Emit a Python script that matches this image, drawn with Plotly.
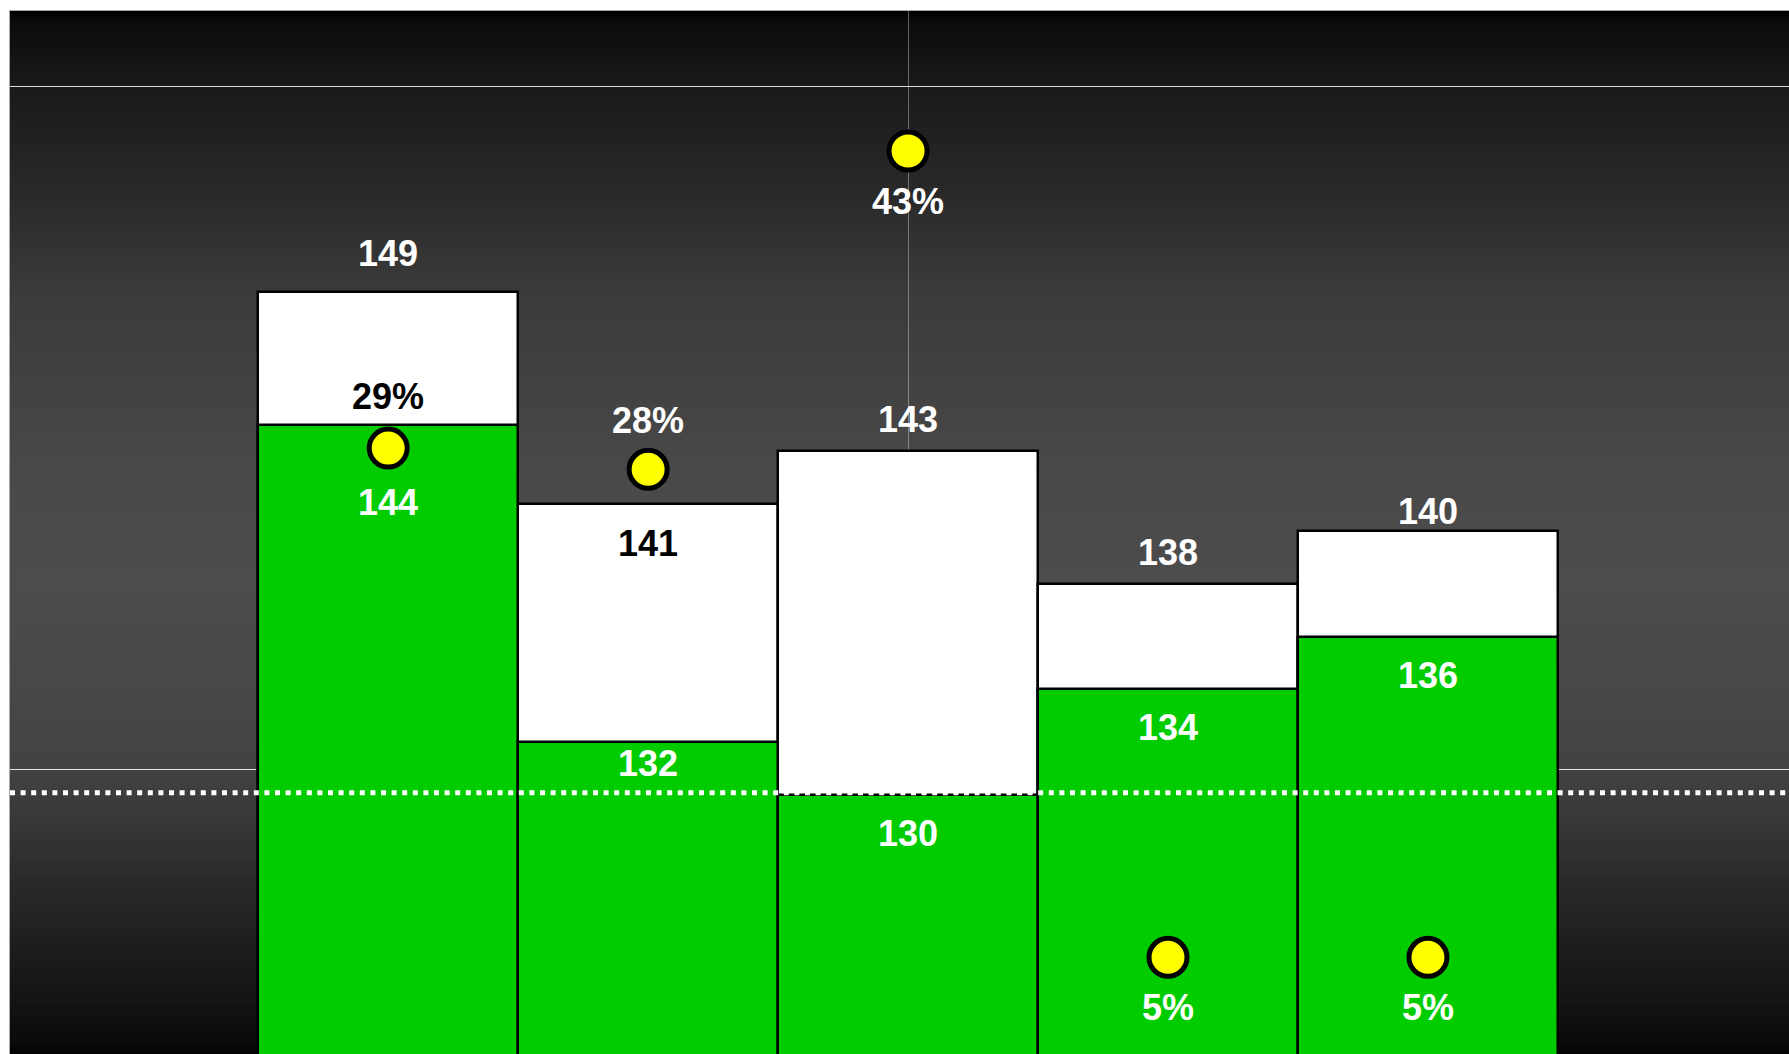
import numpy as np
import plotly.graph_objects as go

# ---- data -------------------------------------------------------------
periods = [1, 2, 3, 4, 5]
upper_values = [149, 141, 143, 138, 140]      # white bars
lower_values = [144, 132, 130, 134, 136]      # green bars
share_pct = [29, 28, 43, 5, 5]                # yellow markers (right scale)
reference_level = 130.1                       # dotted reference line
grid_levels = [156.76, 130.96]

# ---- styling ----------------------------------------------------------
FONT = "Liberation Sans, Arial, Helvetica, sans-serif"
GREEN = "#00cc00"
YELLOW = "#ffff00"

# label offsets in pixels (positive = above the value)
upper_label_shift = [39, -39, 32, 31, 19]
upper_label_color = ["white", "black", "white", "white", "white"]
lower_label_shift = [-78, -21, -38, -38, -39]
pct_label_shift = [52, 49, -50, -50, -50]
pct_label_color = ["black", "white", "white", "white", "white"]

fig = go.Figure()

fig.add_trace(go.Bar(
    x=periods, y=upper_values, marker=dict(color="white", line=dict(color="black", width=2.5)),
    hoverinfo="skip", showlegend=False,
))
fig.add_trace(go.Bar(
    x=periods, y=lower_values, marker=dict(color=GREEN, line=dict(color="black", width=2.5)),
    hoverinfo="skip", showlegend=False,
))
fig.add_trace(go.Scatter(
    x=periods, y=share_pct, yaxis="y2", mode="markers",
    marker=dict(size=38, color=YELLOW, line=dict(color="black", width=5)),
    hoverinfo="skip", showlegend=False,
))

annotations = []
for x, v, s, c in zip(periods, upper_values, upper_label_shift, upper_label_color):
    annotations.append(dict(x=x, y=v, yref="y", text=str(v), showarrow=False,
                            yanchor="middle", yshift=s,
                            font=dict(family=FONT, size=36, color=c, weight="bold")))
for x, v, s in zip(periods, lower_values, lower_label_shift):
    annotations.append(dict(x=x, y=v, yref="y", text=str(v), showarrow=False,
                            yanchor="middle", yshift=s,
                            font=dict(family=FONT, size=36, color="white", weight="bold")))
for x, v, s, c in zip(periods, share_pct, pct_label_shift, pct_label_color):
    annotations.append(dict(x=x, y=v, yref="y2", text=f"{v}%", showarrow=False,
                            yanchor="middle", yshift=s,
                            font=dict(family=FONT, size=36, color=c, weight="bold")))

# vertical dark-grey gradient behind the plot area, built from thin stripes
stops = [0.0, 0.012, 0.073, 0.18, 0.27, 0.46, 0.55, 0.66, 0.73, 0.852, 0.948, 0.99, 1.0]
levels = [0, 12, 26, 42, 59, 74, 76, 71, 66, 38, 20, 10, 2]
n_strips = 350
shapes = []
for i in range(n_strips):
    top = 1 - i / n_strips
    bottom = 1 - (i + 1) / n_strips
    g = int(round(np.interp((i + 0.5) / n_strips, stops, levels)))
    shapes.append(dict(type="rect", xref="paper", yref="paper", x0=0, x1=1,
                       y0=bottom - 0.001, y1=top, layer="below",
                       fillcolor=f"rgb({g},{g},{g})", line=dict(width=0)))

shapes.append(dict(type="line", xref="paper", yref="y", x0=0, x1=1,
                   y0=reference_level, y1=reference_level, layer="above",
                   line=dict(color="white", width=5, dash="5px,5.6px")))

fig.update_layout(
    width=1789, height=1054, autosize=False,
    margin=dict(l=10, r=0, t=11, b=0, pad=0),
    paper_bgcolor="white", plot_bgcolor="black",
    barmode="overlay", bargap=0,
    annotations=annotations, shapes=shapes,
    xaxis=dict(range=[-0.455, 6.389], tickvals=[3], showticklabels=False, ticks="",
               showgrid=True, gridcolor="rgba(255,255,255,0.35)", gridwidth=1,
               zeroline=False, showline=True, mirror=True, linecolor="#a8a8a8", linewidth=1),
    yaxis=dict(range=[120.23, 159.63], tickvals=grid_levels, showticklabels=False, ticks="",
               showgrid=True, gridcolor="rgba(255,255,255,0.85)", gridwidth=1,
               zeroline=False, showline=True, mirror=True, linecolor="#a8a8a8", linewidth=1),
    yaxis2=dict(range=[0.443, 49.60], overlaying="y", side="right", showgrid=False,
                showticklabels=False, ticks="", zeroline=False),
)

fig.write_html("out.html")
